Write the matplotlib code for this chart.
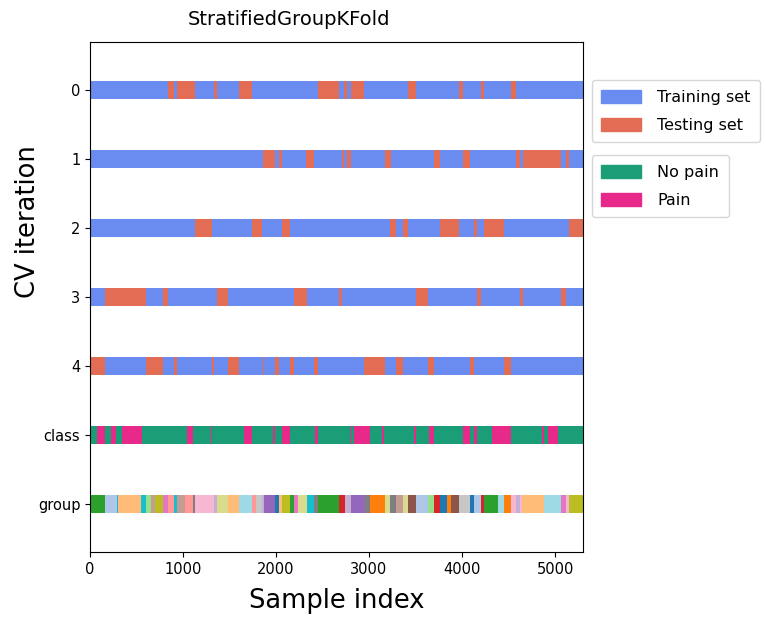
import numpy as np
import matplotlib
matplotlib.use("Agg")
import matplotlib.pyplot as plt
from matplotlib.patches import Patch

# ---------------- data ----------------
n_samples = 5300
fold_labels = ["0", "1", "2", "3", "4"]
row_labels = fold_labels + ["class", "group"]

test_fold0 = [(842, 906), (932, 1132), (1336, 1365), (1598, 1745), (2455, 2677),
              (2734, 2766), (2806, 2949), (3415, 3505), (3970, 4013), (4207, 4232),
              (4522, 4576)]
test_fold1 = [(1845, 1856), (1874, 1989), (2035, 2067), (2325, 2411), (2705, 2734),
              (2766, 2806), (3171, 3232), (3695, 3766), (4013, 4085), (4576, 4623),
              (4658, 5060), (5117, 5153)]
test_fold2 = [(1132, 1312), (1745, 1845), (2067, 2153), (3225, 3286), (3368, 3415),
              (3766, 3970), (4128, 4160), (4232, 4447), (5149, 5300)]
test_fold3 = [(161, 599), (785, 842), (1368, 1487), (2196, 2329), (2677, 2705),
              (3505, 3637), (4160, 4203), (4623, 4658), (5060, 5117)]
test_fold4 = [(0, 161), (599, 785), (906, 932), (1312, 1336), (1487, 1598),
              (1863, 1874), (1989, 2035), (2153, 2196), (2411, 2455), (2949, 3171),
              (3286, 3368), (3637, 3695), (4085, 4128), (4447, 4522)]
test_folds = [test_fold0, test_fold1, test_fold2, test_fold3, test_fold4]

pain_segments = [(72, 161), (222, 280), (347, 555), (1046, 1103), (1297, 1312),
                 (1659, 1745), (1971, 1989), (2067, 2153), (2414, 2455), (2795, 2806),
                 (2842, 3010), (3143, 3164), (3487, 3505), (3648, 3695), (4013, 4085),
                 (4128, 4157), (4322, 4522), (4855, 4883), (4927, 5034)]

group_edges = [0, 161, 287, 297, 548, 599, 652, 699, 785, 842, 906, 932, 1021, 1103,
               1132, 1336, 1368, 1487, 1598, 1745, 1788, 1845, 1874, 1989, 2035, 2067,
               2153, 2196, 2239, 2329, 2411, 2455, 2677, 2738, 2806, 2956, 3010, 3171,
               3225, 3286, 3368, 3415, 3505, 3637, 3695, 3766, 3838, 3881, 3970, 4085,
               4128, 4200, 4232, 4390, 4451, 4522, 4576, 4623, 4648, 4883, 5060, 5117,
               5149, 5300]
group_ids = [4, 1, 18, 3, 18, 5, 11, 16, 12, 7, 18, 11, 7, 14, 13, 9, 17, 3, 19, 7,
             15, 9, 8, 0, 3, 16, 4, 12, 17, 18, 14, 4, 6, 9, 8, 14, 2, 17, 14, 11, 17,
             10, 1, 5, 6, 0, 2, 10, 15, 0, 1, 6, 4, 19, 2, 13, 9, 13, 3, 19, 12, 13, 16]

legend_cv = ["Training set", "Testing set"]
legend_class = ["No pain", "Pain"]

# ---------------- style ----------------
c_train = "#6a8bef"
c_test = "#e36c55"
c_nopain = "#1b9e77"
c_pain = "#e7298a"
bar_h = 0.27
tab20 = plt.get_cmap("tab20")

fig = plt.figure(figsize=(7.66, 6.19), dpi=100)
ax = fig.add_axes([0.1175, 0.108, 0.6436, 0.8245])

def segs(pairs):
    return [(a, b - a) for a, b in pairs]

for i, tests in enumerate(test_folds):
    y = i + 0.5
    ax.broken_barh([(0, n_samples)], (y - bar_h / 2, bar_h), facecolors=c_train)
    ax.broken_barh(segs(tests), (y - bar_h / 2, bar_h), facecolors=c_test)

y = len(test_folds) + 0.5
ax.broken_barh([(0, n_samples)], (y - bar_h / 2, bar_h), facecolors=c_nopain)
ax.broken_barh(segs(pain_segments), (y - bar_h / 2, bar_h), facecolors=c_pain)

y = len(test_folds) + 1.5
gpairs = list(zip(group_edges[:-1], group_edges[1:]))
ax.broken_barh(segs(gpairs), (y - bar_h / 2, bar_h),
               facecolors=[tab20(g) for g in group_ids])

ax.set_yticks(np.arange(len(row_labels)) + 0.5)
ax.set_yticklabels(row_labels, fontsize=10.5)
ax.set_ylim(len(row_labels) + 0.2, -0.2)
ax.set_xlim(0, n_samples)
ax.tick_params(axis="x", labelsize=10.5)
ax.set_xlabel("Sample index", fontsize=18.5, labelpad=8)
ax.set_ylabel("CV iteration", fontsize=18.5, y=0.647, labelpad=-2)
ax.set_title("StratifiedGroupKFold", fontsize=14, x=0.404, pad=12)

leg_kw = dict(loc="upper left", fontsize=11.5, handlelength=2.5, handleheight=0.9,
              labelspacing=0.8, borderaxespad=0, handletextpad=1.0, borderpad=0.6)
leg1 = ax.legend([Patch(color=c_train), Patch(color=c_test)], legend_cv,
                 bbox_to_anchor=(1.018, 0.925), **leg_kw)
ax.add_artist(leg1)
ax.legend([Patch(color=c_nopain), Patch(color=c_pain)], legend_class,
          bbox_to_anchor=(1.018, 0.778), **leg_kw)

fig.savefig("out.png", dpi=100)
